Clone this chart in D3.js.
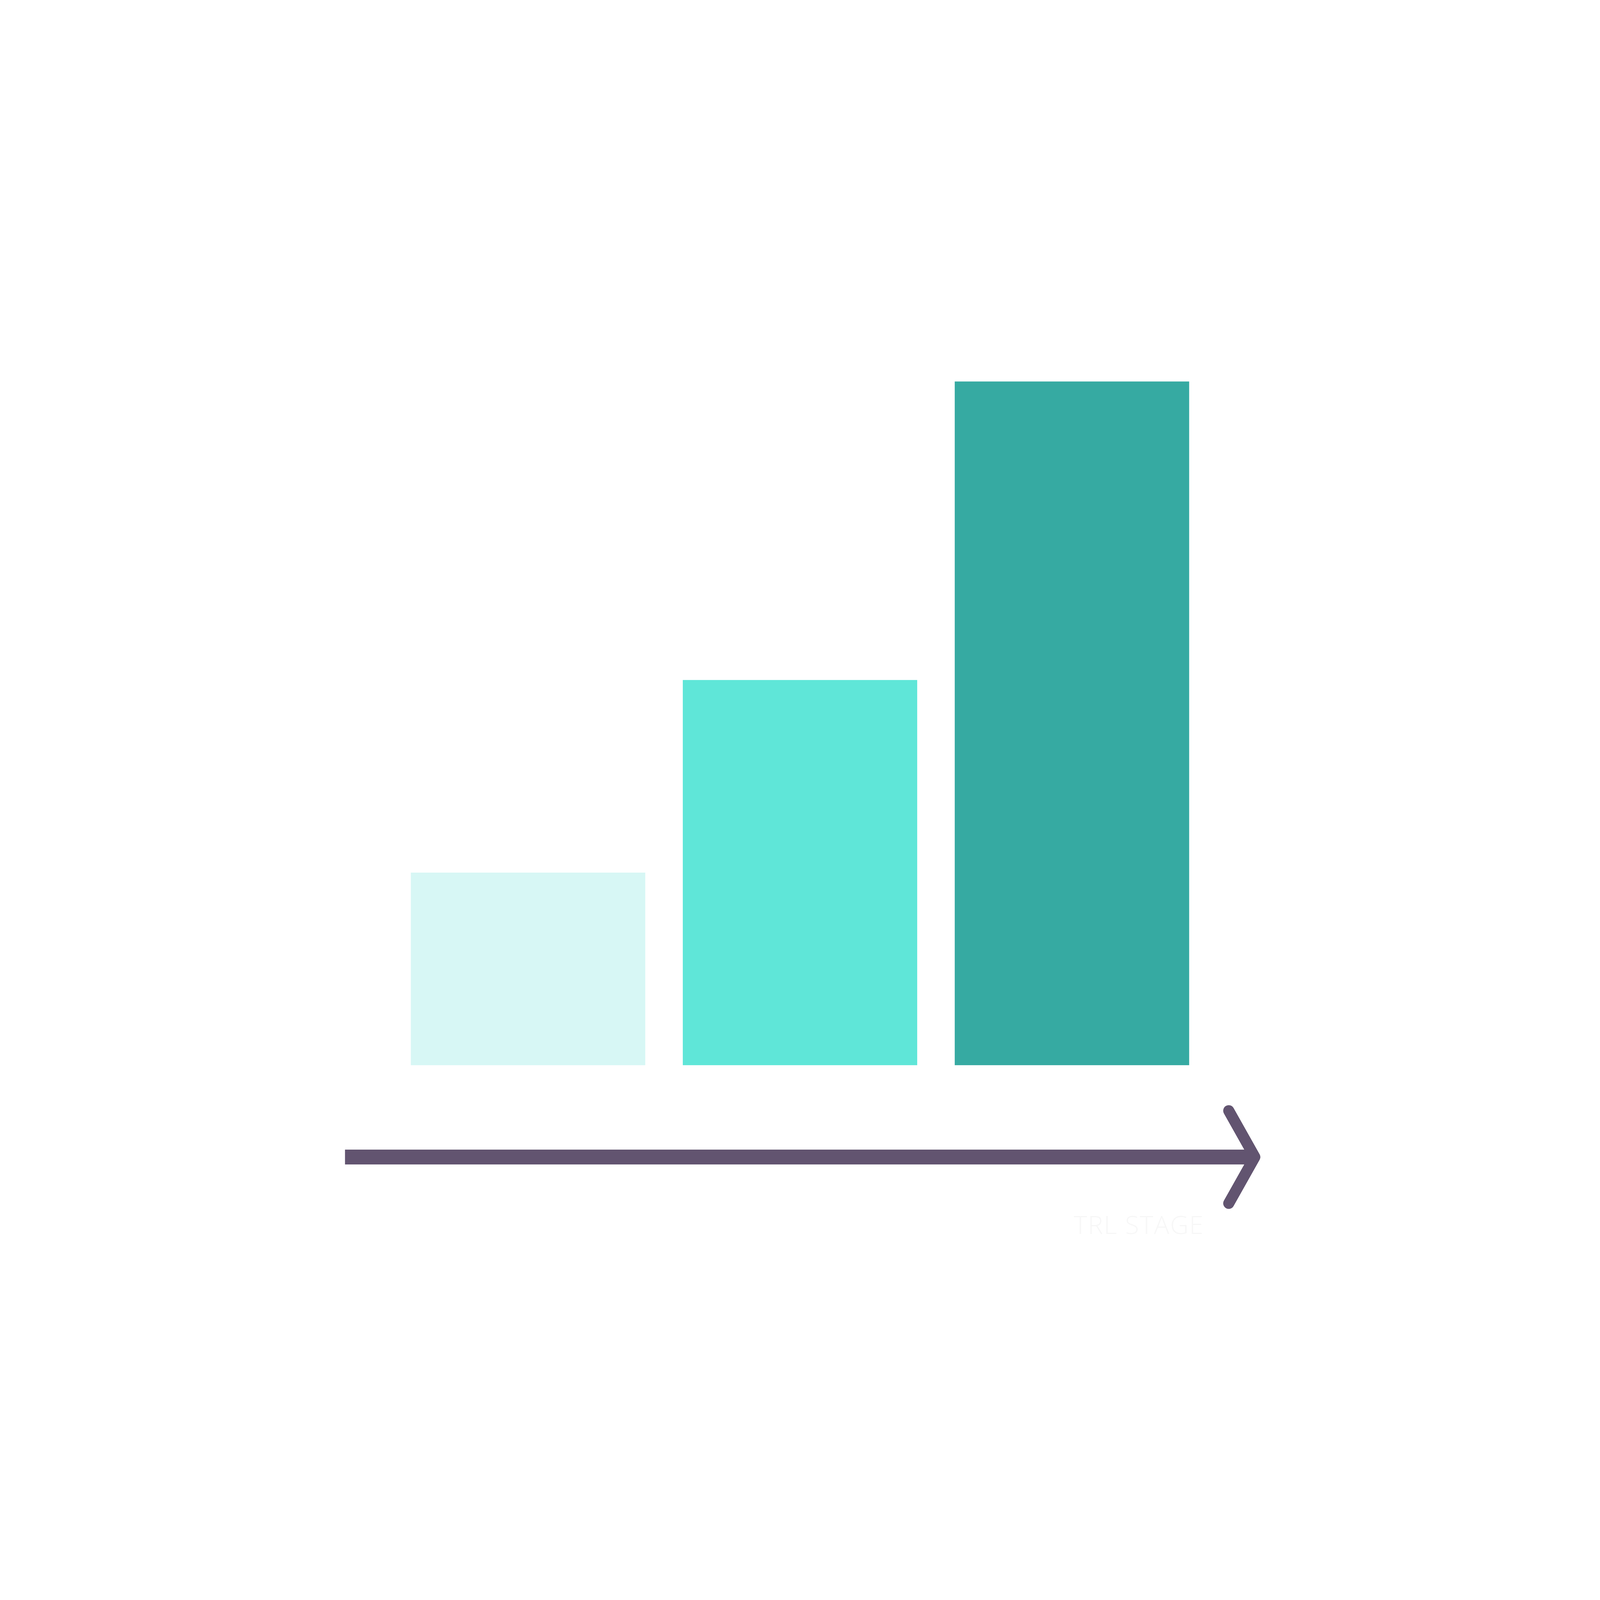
<!DOCTYPE html>
<html>
<head>
<meta charset="utf-8">
<script src="https://cdn.jsdelivr.net/npm/d3@7"></script>
<style>
    html, body { margin: 0; padding: 0; background: #ffffff; overflow: hidden; width: 100%; height: 100%; }
    svg { display: block; }
</style>
</head>
<body>
<div id="chart"></div>
<script>
// Chart data
const categories = ['TRL 1-3', 'TRL 4-6', 'TRL 7-9'];
const values = [2, 4, 7.1];
const barColors = ['#D7F7F5', '#5FE6D8', '#36AAA2'];
const axisLabel = 'TRL STAGE';

const drawChart = function() {
    // Layout is designed on a 7680 x 4320 frame and mapped onto the actual window.
    const width = window.innerWidth || 7680;
    const height = window.innerHeight || 4320;
    const kx = width / 7680;
    const ky = height / 4320;
    const k = Math.min(kx, ky);

    const barsLeft = 1972 * kx;
    const barsRight = 5708 * kx;
    const baseline = 2876 * ky;
    const axisY = 3124 * ky;
    const axisLeft = 1656 * kx;
    const axisRight = 6023 * kx;
    const axisColor = '#625470';

    const data = categories.map((c, i) => ({ name: c, value: values[i], color: barColors[i] }));

    const x = d3.scaleBand()
        .domain(categories)
        .range([barsLeft, barsRight])
        .paddingInner(0.138)
        .paddingOuter(0);

    const y = d3.scaleLinear()
        .domain([0, 10])
        .range([baseline, baseline - 2600 * ky]);

    const svg = d3.create('svg')
        .attr('width', width)
        .attr('height', height)
        .attr('viewBox', [0, 0, width, height]);

    svg.append('rect')
        .attr('width', width)
        .attr('height', height)
        .attr('fill', '#ffffff');

    svg.append('g')
        .selectAll()
        .data(data)
        .join('rect')
        .attr('x', (d) => x(d.name))
        .attr('y', (d) => y(d.value))
        .attr('height', (d) => y(0) - y(d.value))
        .attr('width', x.bandwidth())
        .attr('fill', (d) => d.color);

    // Axis line with open arrow head
    const axis = svg.append('g');

    axis.append('line')
        .attr('x1', axisLeft)
        .attr('x2', axisRight)
        .attr('y1', axisY)
        .attr('y2', axisY)
        .attr('stroke', axisColor)
        .attr('stroke-width', 40 * ky);

    axis.append('path')
        .attr('d', d3.line()([
            [axisRight - 125 * kx, axisY - 125 * ky],
            [axisRight, axisY],
            [axisRight - 125 * kx, axisY + 125 * ky]
        ]))
        .attr('fill', 'none')
        .attr('stroke', axisColor)
        .attr('stroke-width', 40 * Math.sqrt(kx * ky))
        .attr('stroke-linecap', 'round')
        .attr('stroke-linejoin', 'round');

    axis.append('text')
        .attr('x', 5780 * kx)
        .attr('y', 3332 * ky)
        .attr('text-anchor', 'end')
        .attr('fill', '#F7F7F7')
        .style('font-family', '"Open Sans", Lato, sans-serif')
        .style('font-weight', 300)
        .style('font-size', `${122 * k}px`)
        .style('letter-spacing', `${4 * k}px`)
        .text(axisLabel);

    document.getElementById('chart').append(svg.node());
};

drawChart();
</script>
</body>
</html>
